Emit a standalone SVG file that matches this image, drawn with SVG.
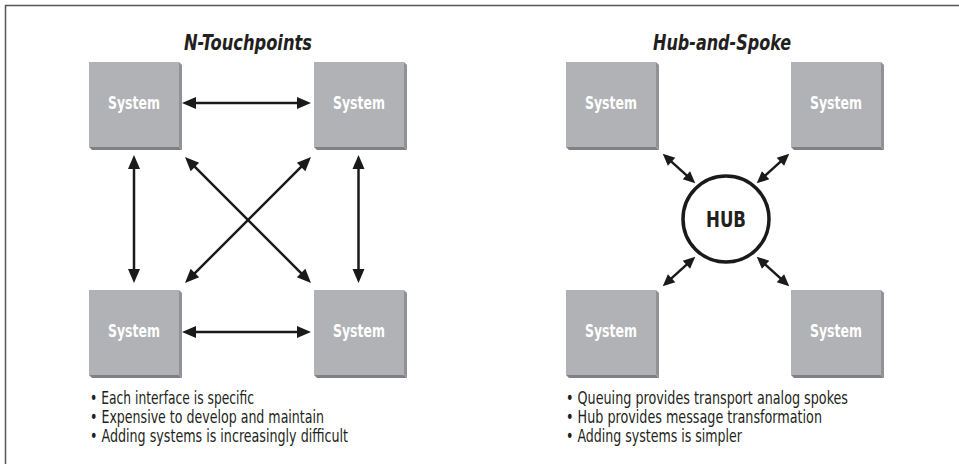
<svg xmlns="http://www.w3.org/2000/svg" width="959" height="464" viewBox="0 0 959 464">
<style>
.face{fill:#b1b2b5}
.side{fill:#919295}
.bot{fill:#7f8083}
.lbl{font-family:"DejaVu Sans Condensed","Liberation Sans",Arial,sans-serif;font-stretch:condensed;font-weight:bold;font-size:18px;fill:#ffffff;text-anchor:middle}
.title{font-family:"DejaVu Sans Condensed","Liberation Sans",Arial,sans-serif;font-stretch:condensed;font-weight:bold;font-style:italic;font-size:21px;fill:#231f20;text-anchor:middle}
.hub{font-family:"DejaVu Sans Condensed","Liberation Sans",Arial,sans-serif;font-stretch:condensed;font-weight:bold;font-size:22px;fill:#231f20;text-anchor:middle}
.bul{font-family:"DejaVu Sans Condensed","Liberation Sans",Arial,sans-serif;font-stretch:condensed;font-size:17.5px;fill:#231f20}
.arr{stroke:#1a1a1a;stroke-width:2.5;fill:none;marker-start:url(#big);marker-end:url(#big)}
.sp{stroke:#1a1a1a;stroke-width:2.5;fill:none;marker-start:url(#sm);marker-end:url(#sm)}
</style>
<defs>
<marker id="big" markerUnits="userSpaceOnUse" markerWidth="14" markerHeight="12" refX="6" refY="6" orient="auto-start-reverse" overflow="visible">
<path d="M0,0 L14,6 L0,12 z" fill="#1a1a1a"/>
</marker>
<marker id="sm" markerUnits="userSpaceOnUse" markerWidth="12" markerHeight="11" refX="4" refY="5.5" orient="auto-start-reverse" overflow="visible">
<path d="M0,0 L12,5.5 L0,11 z" fill="#1a1a1a"/>
</marker>
<g id="box">
<rect class="face" x="0" y="0" width="90" height="85"/>
<polygon class="side" points="90,0 93,3 93,88 90,85"/>
<polygon class="bot" points="0,85 90,85 93,88 3,88"/>
</g>
</defs>
<rect x="5.5" y="5.5" width="1000" height="500" fill="none" stroke="#555" stroke-width="1.5"/>

<text class="title" x="248" y="50" textLength="128" lengthAdjust="spacingAndGlyphs">N-Touchpoints</text>
<text class="title" x="722" y="50" textLength="138" lengthAdjust="spacingAndGlyphs">Hub-and-Spoke</text>

<g id="connectors">
<line class="arr" x1="190" y1="103" x2="303" y2="103"/>
<line class="arr" x1="190" y1="332" x2="303" y2="332"/>
<line class="arr" x1="134" y1="163" x2="134" y2="275"/>
<line class="arr" x1="358.5" y1="163" x2="358.5" y2="275"/>
<line class="arr" x1="190.66" y1="162.66" x2="305.34" y2="277.34"/>
<line class="arr" x1="305.34" y1="162.66" x2="190.66" y2="277.34"/>
<line class="sp" x1="668.65" y1="159.07" x2="689.35" y2="177.93"/>
<line class="sp" x1="783.35" y1="159.07" x2="762.65" y2="177.93"/>
<line class="sp" x1="689.35" y1="262.07" x2="668.65" y2="280.93"/>
<line class="sp" x1="762.65" y1="262.07" x2="783.35" y2="280.93"/>
</g>

<g id="n-tl"><use href="#box" x="89" y="62"/><text class="lbl" x="134" y="109" textLength="52" lengthAdjust="spacingAndGlyphs">System</text></g>
<g id="n-tr"><use href="#box" x="314" y="62"/><text class="lbl" x="359" y="109" textLength="52" lengthAdjust="spacingAndGlyphs">System</text></g>
<g id="n-bl"><use href="#box" x="89" y="290"/><text class="lbl" x="134" y="337" textLength="52" lengthAdjust="spacingAndGlyphs">System</text></g>
<g id="n-br"><use href="#box" x="314" y="290"/><text class="lbl" x="359" y="337" textLength="52" lengthAdjust="spacingAndGlyphs">System</text></g>

<g id="h-tl"><use href="#box" x="566" y="62"/><text class="lbl" x="611" y="109" textLength="52" lengthAdjust="spacingAndGlyphs">System</text></g>
<g id="h-tr"><use href="#box" x="791" y="62"/><text class="lbl" x="836" y="109" textLength="52" lengthAdjust="spacingAndGlyphs">System</text></g>
<g id="h-bl"><use href="#box" x="566" y="290"/><text class="lbl" x="611" y="337" textLength="52" lengthAdjust="spacingAndGlyphs">System</text></g>
<g id="h-br"><use href="#box" x="791" y="290"/><text class="lbl" x="836" y="337" textLength="52" lengthAdjust="spacingAndGlyphs">System</text></g>

<g id="hub">
<circle cx="726" cy="219" r="43" fill="#ffffff" stroke="#1a1a1a" stroke-width="3.5"/>
<text class="hub" x="726" y="227" textLength="40" lengthAdjust="spacingAndGlyphs">HUB</text>
</g>

<g id="notes-left">
<text class="bul" x="90" y="404" textLength="164" lengthAdjust="spacingAndGlyphs">• Each interface is specific</text>
<text class="bul" x="90" y="423" textLength="234" lengthAdjust="spacingAndGlyphs">• Expensive to develop and maintain</text>
<text class="bul" x="90" y="442" textLength="258" lengthAdjust="spacingAndGlyphs">• Adding systems is increasingly difficult</text>
</g>
<g id="notes-right">
<text class="bul" x="566" y="404" textLength="282" lengthAdjust="spacingAndGlyphs">• Queuing provides transport analog spokes</text>
<text class="bul" x="566" y="423" textLength="256" lengthAdjust="spacingAndGlyphs">• Hub provides message transformation</text>
<text class="bul" x="566" y="442" textLength="176" lengthAdjust="spacingAndGlyphs">• Adding systems is simpler</text>
</g>
</svg>
